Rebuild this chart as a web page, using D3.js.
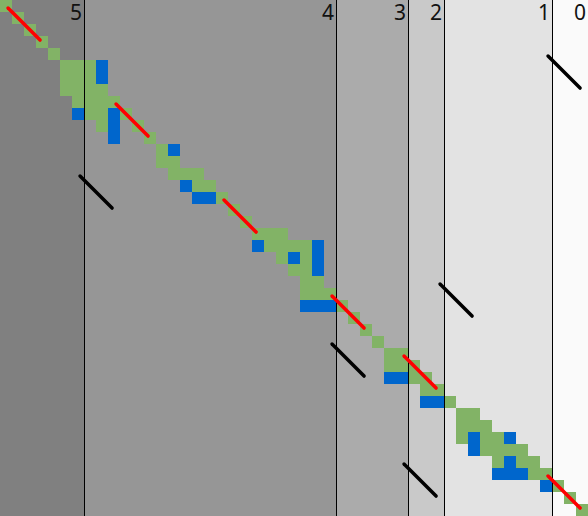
<!DOCTYPE html>
<html>
<head>
<meta charset="utf-8">
<script src="https://cdn.jsdelivr.net/npm/d3@7"></script>
<style>
html,body{margin:0;padding:0;background:#fff;}
svg{display:block;}
</style>
</head>
<body>
<svg id="chart" width="588" height="516"></svg>
<script>
// ---- data (grid cell units) ----
const nCols = 49, nRows = 43;
const bandEdges = [0, 7, 28, 34, 37, 46, 49];
const bandLabels = ["5", "4", "3", "2", "1", "0"];
const bandShades = ["#808080", "#969696", "#ababab", "#c9c9c9", "#e3e3e3", "#fafafa"];

// green cells: [row, col]
const greenCells = [
  [0,0],[1,1],[2,2],[3,3],[4,4],
  [5,5],[5,6],[5,7],
  [6,5],[6,6],[6,7],
  [7,5],[7,6],[7,7],[7,8],
  [8,6],[8,7],[8,8],[8,9],
  [9,7],[9,8],[9,10],
  [10,8],[10,11],
  [11,12],
  [12,13],
  [13,13],[13,14],
  [14,14],[14,15],[14,16],
  [15,16],[15,17],
  [16,18],[17,19],[18,20],
  [19,21],[19,22],[19,23],
  [20,22],[20,23],[20,24],[20,25],
  [21,23],[21,25],
  [22,24],[22,25],
  [23,25],[23,26],
  [24,25],[24,26],[24,27],
  [25,28],[26,29],[27,30],[28,31],
  [29,32],[29,33],
  [30,32],[30,33],[30,34],
  [31,34],[31,35],
  [32,35],[32,36],
  [33,37],
  [34,38],[34,39],
  [35,38],[35,39],[35,40],
  [36,38],[36,40],[36,41],
  [37,40],[37,41],[37,42],[37,43],
  [38,41],[38,43],[38,44],
  [39,44],[39,45],
  [40,46],[41,47],[42,48]
];
// blue cells: [row, col]
const blueCells = [
  [5,8],[6,8],
  [9,6],[9,9],[10,9],[11,9],
  [12,14],
  [15,15],[16,16],[16,17],
  [20,21],[20,26],[21,24],[21,26],[22,26],
  [25,25],[25,26],[25,27],
  [31,32],[31,33],
  [33,35],[33,36],
  [36,39],[36,42],[37,39],
  [38,42],[39,41],[39,42],[39,43],
  [40,45]
];
// short diagonal strokes: start [x, y] in cell units
const redStarts = [[0.67,0.67],[9.67,8.67],[18.67,16.67],[27.67,24.67],[33.67,29.67],[45.67,39.67]];
const blackStarts = [[6.67,14.67],[45.67,4.67],[36.67,23.67],[27.67,28.67],[33.67,38.67]];
const strokeLen = 2.67;

// ---- drawing ----
const W = 588, H = 516;
const x = d3.scaleLinear().domain([0, nCols]).range([0, W]);
const y = d3.scaleLinear().domain([0, nRows]).range([0, H]);
const shade = d3.scaleOrdinal().domain(bandLabels).range(bandShades);

const svg = d3.select("#chart");

const bands = bandLabels.map((l, i) => ({label: l, x0: bandEdges[i], x1: bandEdges[i + 1]}));

svg.append("g").selectAll("rect").data(bands).join("rect")
  .attr("x", d => x(d.x0)).attr("y", 0)
  .attr("width", d => x(d.x1) - x(d.x0)).attr("height", H)
  .attr("fill", d => shade(d.label));

function cells(data, color) {
  svg.append("g").selectAll("rect").data(data).join("rect")
    .attr("x", d => x(d[1])).attr("y", d => y(d[0]))
    .attr("width", x(1) - x(0)).attr("height", y(1) - y(0))
    .attr("fill", color)
    .attr("shape-rendering", "crispEdges");
}
cells(greenCells, "#82b366");
cells(blueCells, "#0066cc");

// band boundaries
svg.append("g").selectAll("line").data(bandEdges.slice(1, -1)).join("line")
  .attr("x1", d => Math.round(x(d)) + 0.5).attr("x2", d => Math.round(x(d)) + 0.5)
  .attr("y1", 0).attr("y2", H)
  .attr("stroke", "#000").attr("stroke-width", 1);

function strokes(data, color) {
  svg.append("g").selectAll("line").data(data).join("line")
    .attr("x1", d => x(d[0])).attr("y1", d => y(d[1]))
    .attr("x2", d => x(d[0] + strokeLen)).attr("y2", d => y(d[1] + strokeLen))
    .attr("stroke", color).attr("stroke-width", 3.5).attr("stroke-linecap", "round");
}
strokes(blackStarts, "#000");
strokes(redStarts, "#ff0000");

// labels
svg.append("g").selectAll("text").data(bands).join("text")
  .attr("x", d => x(d.x1) - 2).attr("y", 19.5)
  .attr("text-anchor", "end")
  .attr("font-family", "'Noto Sans', 'Open Sans', sans-serif")
  .attr("font-size", 21)
  .attr("fill", "#111")
  .text(d => d.label);
</script>
</body>
</html>
